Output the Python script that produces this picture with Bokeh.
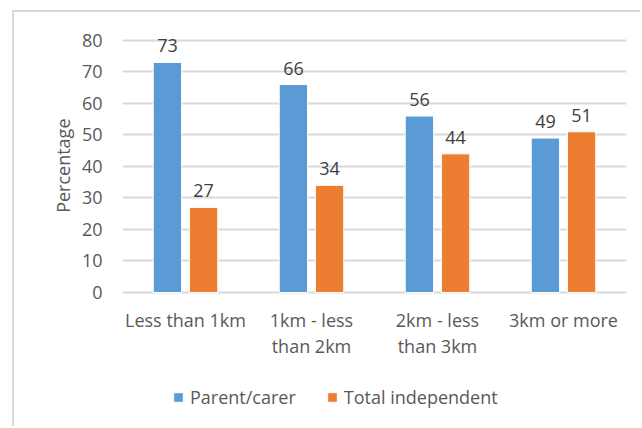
from bokeh.plotting import figure
from bokeh.models import Range1d, FactorRange, Legend, LegendItem, FixedTicker, ColumnDataSource, Title
from bokeh.transform import dodge
from bokeh.core.properties import value
from bokeh.embed import file_html
from bokeh.resources import INLINE

categories = ["Less than 1km", "1km - less\nthan 2km", "2km - less\nthan 3km", "3km or more"]
parent_carer = [73, 66, 56, 49]
total_independent = [27, 34, 44, 51]
y_ticks = [0, 10, 20, 30, 40, 50, 60, 70, 80]
series_names = ["Parent/carer", "Total independent"]
y_title = "Percentage"

FONT = "Open Sans"
TXT = "#595959"

src = ColumnDataSource(dict(cat=categories, pc=parent_carer, ti=total_independent,
                            pcl=[str(v) for v in parent_carer],
                            til=[str(v) for v in total_independent]))

# the frame runs down to the bottom so that category labels and legend are drawn inside it
p = figure(width=628, height=416, x_range=FactorRange(*categories), y_range=Range1d(-43.16, 86),
           output_backend="svg", toolbar_location=None,
           min_border_left=108, min_border_right=16, min_border_top=9, min_border_bottom=0)
p.styles = {"margin-left": "12px", "margin-top": "10px",
            "border-left": "2px solid #d9d9d9", "border-top": "2px solid #d9d9d9"}
p.outline_line_color = None
p.background_fill_color = "white"
p.border_fill_color = "white"

r1 = p.vbar(x=dodge("cat", -0.1435, range=p.x_range), top="pc", width=0.225, source=src,
            fill_color="#5B9BD5", line_color="white", line_width=1)
r2 = p.vbar(x=dodge("cat", 0.1435, range=p.x_range), top="ti", width=0.225, source=src,
            fill_color="#ED7D31", line_color="white", line_width=1)

for col, lab, off in (("pc", "pcl", -0.1435), ("ti", "til", 0.1435)):
    p.text(x=dodge("cat", off, range=p.x_range), y=col, text=lab, source=src,
           text_font=value(FONT), text_font_size="18px", text_color="#404040",
           text_align="center", text_baseline="alphabetic", y_offset=-16.5)

# category labels under the zero line
p.text(x="cat", y=0, text="cat", source=src,
       text_font=value(FONT), text_font_size="18px", text_color=TXT,
       text_align="center", text_baseline="top", text_line_height=1.05, y_offset=16)

p.xgrid.grid_line_color = None
p.ygrid.grid_line_color = "#d9d9d9"
p.ygrid.grid_line_width = 2
p.ygrid.ticker = FixedTicker(ticks=y_ticks)

p.xaxis.visible = False

p.yaxis.ticker = FixedTicker(ticks=y_ticks)
p.yaxis.axis_line_color = None
p.yaxis.major_tick_line_color = None
p.yaxis.minor_tick_line_color = None
p.yaxis.major_tick_out = 0
p.yaxis.major_label_standoff = 20
p.yaxis.major_label_text_font = FONT
p.yaxis.major_label_text_font_size = "18px"
p.yaxis.major_label_text_color = TXT

p.add_layout(Title(text=y_title, align="right", offset=97, standoff=8,
                   text_font=FONT, text_font_size="18px", text_font_style="normal",
                   text_color=TXT), "left")

legend = Legend(items=[LegendItem(label=series_names[0], renderers=[r1]),
                       LegendItem(label=series_names[1], renderers=[r2])],
                orientation="horizontal", location=(50, 19),
                glyph_width=12, glyph_height=12, label_standoff=6, spacing=30,
                padding=0, margin=0, label_height=20,
                label_text_font=FONT, label_text_font_size="18px", label_text_color=TXT,
                border_line_color=None, background_fill_alpha=0)
p.add_layout(legend, "center")

open("out.html", "w").write(file_html(p, INLINE))
